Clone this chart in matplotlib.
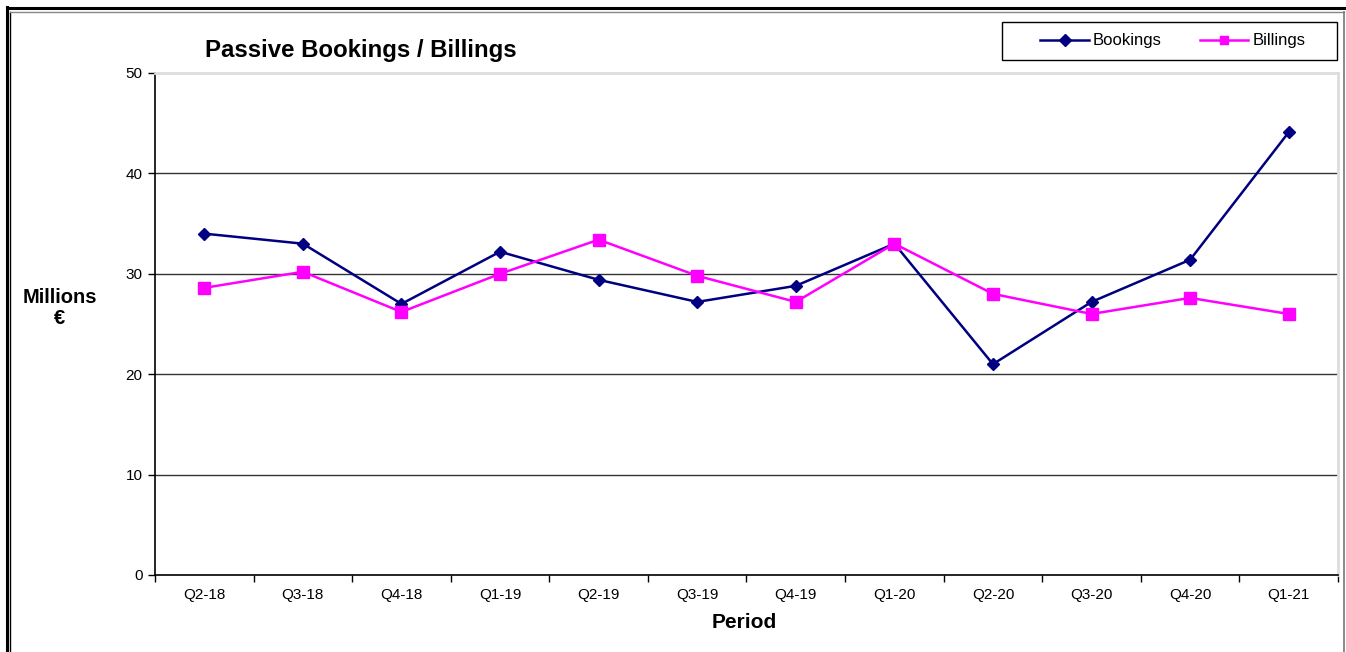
import numpy as np
import matplotlib.pyplot as plt
from matplotlib.lines import Line2D
from matplotlib.patches import Rectangle

periods = ["Q2-18", "Q3-18", "Q4-18", "Q1-19", "Q2-19", "Q3-19",
           "Q4-19", "Q1-20", "Q2-20", "Q3-20", "Q4-20", "Q1-21"]
bookings = [34.0, 33.0, 27.0, 32.2, 29.4, 27.2, 28.8, 33.0, 21.0, 27.2, 31.4, 44.1]
billings = [28.6, 30.2, 26.2, 30.0, 33.4, 29.8, 27.2, 33.0, 28.0, 26.0, 27.6, 26.0]
yticks = [0, 10, 20, 30, 40, 50]

plt.rcParams['font.family'] = ['Liberation Sans', 'DejaVu Sans']

fig = plt.figure(figsize=(13.46, 6.52), dpi=100)
W, H = 1346, 652

# outer frame (double line like the original)
fig.add_artist(Line2D([6.5 / W, 6.5 / W], [0, 1 - 6.5 / H], transform=fig.transFigure, color='black', lw=2.2))
fig.add_artist(Line2D([6.5 / W, 1], [1 - 7.5 / H, 1 - 7.5 / H], transform=fig.transFigure, color='black', lw=2.2))
fig.add_artist(Line2D([10 / W, 10 / W], [0, 1 - 11.5 / H], transform=fig.transFigure, color='black', lw=1.0))
fig.add_artist(Line2D([10 / W, 1343.5 / W], [1 - 11.5 / H, 1 - 11.5 / H], transform=fig.transFigure, color='#888888', lw=1.0))
fig.add_artist(Line2D([1343.5 / W, 1343.5 / W], [0, 1 - 11.5 / H], transform=fig.transFigure, color='#777777', lw=1.2))

ax = fig.add_axes([155 / W, 77 / H, (1338 - 155) / W, (575 - 73) / H])
x = np.arange(len(periods))

ax.plot(x, bookings, color='#000080', lw=1.8, marker='D', ms=6.5, label='Bookings', zorder=3)
ax.plot(x, billings, color='#FF00FF', lw=1.8, marker='s', ms=8, label='Billings', zorder=3)

ax.set_xlim(-0.5, len(periods) - 0.5)
ax.set_ylim(0, 50)
ax.set_yticks(yticks)
ax.set_xticks(x)
ax.set_xticklabels(periods, fontsize=11)
ax.set_xticks(np.arange(-0.5, len(periods), 1.0), minor=True)
ax.tick_params(axis='x', which='major', length=0, pad=9)
ax.tick_params(axis='x', which='minor', length=5, width=1, direction='out')
ax.tick_params(axis='y', labelsize=11, length=5, width=1, direction='out', pad=4)

for v in yticks[1:-1]:
    ax.axhline(v, color='#333333', lw=1.0, zorder=1)

for s in ['top', 'right']:
    ax.spines[s].set_color('#dddddd')
    ax.spines[s].set_linewidth(2)
ax.spines['left'].set_linewidth(1.2)
ax.spines['bottom'].set_linewidth(1.2)

fig.text(205 / W, 1 - 50 / H, "Passive Bookings / Billings", fontsize=17.3, fontweight='bold', va='center', ha='left')
fig.text(60 / W, 1 - 308 / H, "Millions\n€", fontsize=14.5, fontweight='bold', ha='center', va='center', linespacing=1.15)
fig.text(744 / W, 1 - 622 / H, "Period", fontsize=15, fontweight='bold', ha='center', va='center')

# legend box drawn separately, Excel style
fig.add_artist(Rectangle((1002 / W, 1 - 60 / H), (1337 - 1002) / W, (60 - 22) / H,
                         transform=fig.transFigure, fill=False, edgecolor='black', lw=1.0))
leg = ax.legend(loc='center', bbox_to_anchor=(1173 / W, 1 - 41 / H), bbox_transform=fig.transFigure,
                ncol=2, frameon=False, fontsize=12, handlelength=2.9, columnspacing=2.3,
                borderpad=0, handletextpad=0.25, borderaxespad=0)
for h in leg.legend_handles:
    h.set_markersize(6)

fig.savefig('out.png', dpi=100)
